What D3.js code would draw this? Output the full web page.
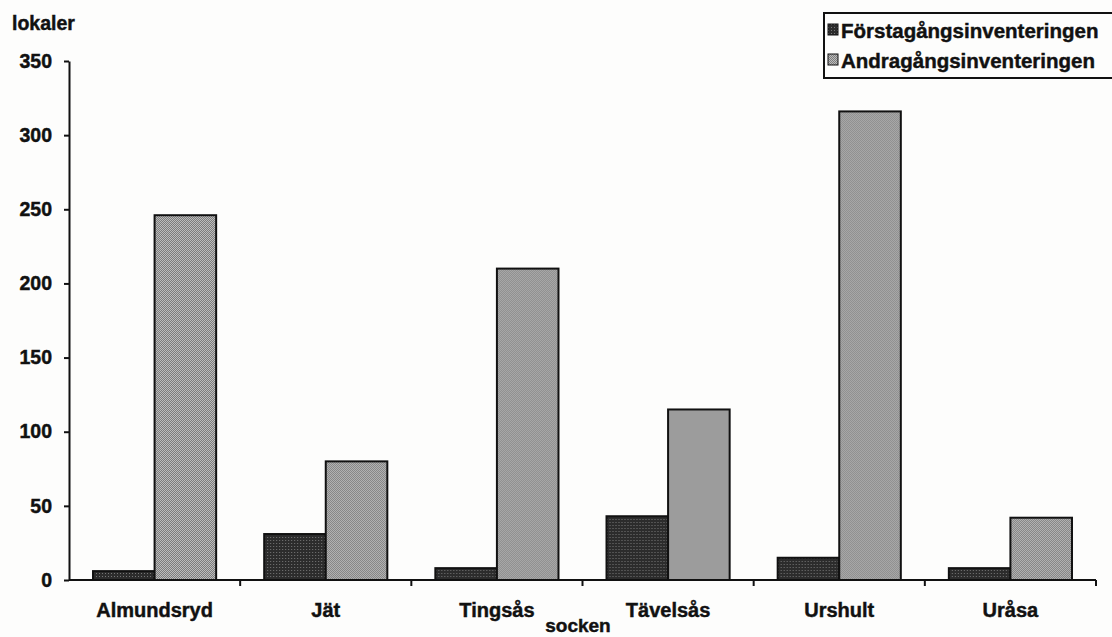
<!DOCTYPE html>
<html>
<head>
<meta charset="utf-8">
<script src="https://cdn.jsdelivr.net/npm/d3@7"></script>
<style>
  body { margin: 0; background: #fdfdfc; }
  svg { display: block; font-family: "Liberation Sans", Arial, sans-serif; font-weight: bold; }
  svg text { stroke: #111; stroke-width: 0.45px; }
</style>
</head>
<body>
<svg id="chart" width="1112" height="637"></svg>
<script>
// socknar och antal lokaler
const socknar = ["Almundsryd", "Jät", "Tingsås", "Tävelsås", "Urshult", "Uråsa"];
const serier = ["Förstagångsinventeringen", "Andragångsinventeringen"];
const forsta = [6, 31, 8, 43, 15, 8];
const andra = [246, 80, 210, 115, 316, 42];
const yTicks = [0, 50, 100, 150, 200, 250, 300, 350];

const svg = d3.select("#chart");
const margin = { l: 69, r: 16, t: 61, b: 57 };
const W = 1112, H = 637;

// halftone-ish fills like the scanned original
const defs = svg.append("defs");
const pDark = defs.append("pattern").attr("id", "p0")
    .attr("width", 3).attr("height", 3).attr("patternUnits", "userSpaceOnUse");
pDark.append("rect").attr("width", 3).attr("height", 3).attr("fill", "#2c2c2c");
pDark.append("rect").attr("width", 1).attr("height", 1).attr("fill", "#777");
const pLight = defs.append("pattern").attr("id", "p1")
    .attr("width", 2).attr("height", 2).attr("patternUnits", "userSpaceOnUse");
pLight.append("rect").attr("width", 2).attr("height", 2).attr("fill", "#bcbcbc");
pLight.append("rect").attr("width", 1).attr("height", 1).attr("fill", "#7c7c7c");
pLight.append("rect").attr("x", 1).attr("y", 1).attr("width", 1).attr("height", 1).attr("fill", "#7c7c7c");

const x = d3.scaleBand()
    .domain(socknar)
    .range([margin.l, W - margin.r]);
const xSub = d3.scaleBand()
    .domain(serier)
    .range([0, x.bandwidth()])
    .paddingOuter(0.39);
const y = d3.scaleLinear()
    .domain([0, 350])
    .range([H - margin.b, margin.t]);

const rows = socknar.map((s, i) => ({ key: s, values: [forsta[i], andra[i]] }));

// bars
svg.append("g").attr("class", "bars")
    .selectAll("g")
    .data(rows)
    .join("g")
    .attr("transform", d => `translate(${x(d.key)},0)`)
    .selectAll("rect")
    .data(d => d.values.map((v, i) => ({ serie: serier[i], value: v, i: i })))
    .join("rect")
    .attr("x", d => xSub(d.serie))
    .attr("y", d => y(d.value))
    .attr("width", xSub.bandwidth())
    .attr("height", d => y(0) - y(d.value))
    .attr("fill", d => `url(#p${d.i})`)
    .attr("stroke", "#111")
    .attr("stroke-width", 2);

// y axis
const axisY = d3.axisLeft(y)
    .tickValues(yTicks)
    .tickSize(5)
    .tickSizeOuter(0)
    .tickPadding(12);
const gy = svg.append("g")
    .attr("transform", `translate(${margin.l},0)`)
    .call(axisY);
gy.select(".domain").attr("stroke", "#111").attr("stroke-width", 2);
gy.selectAll(".tick line").attr("stroke", "#111").attr("stroke-width", 2);
gy.selectAll(".tick text")
    .attr("fill", "#111")
    .style("font-size", "19.5px")
    .style("font-weight", "bold")
    .style("font-family", "'Liberation Sans', Arial, sans-serif");

// x axis: baseline with ticks between categories
const gx = svg.append("g");
gx.append("line")
    .attr("x1", x.range()[0]).attr("x2", x.range()[1])
    .attr("y1", y(0)).attr("y2", y(0))
    .attr("stroke", "#111").attr("stroke-width", 2);
const bounds = socknar.map(s => x(s)).concat([x(socknar[socknar.length - 1]) + x.step()]).slice(1);
gx.selectAll(".xt")
    .data(bounds)
    .join("line")
    .attr("class", "xt")
    .attr("x1", d => d).attr("x2", d => d)
    .attr("y1", y(0)).attr("y2", y(0) + 6)
    .attr("stroke", "#111").attr("stroke-width", 2);
gx.selectAll(".xl")
    .data(socknar)
    .join("text")
    .attr("class", "xl")
    .attr("x", d => x(d) + x.bandwidth() / 2)
    .attr("y", 617)
    .attr("text-anchor", "middle")
    .style("font-size", "20px")
    .attr("fill", "#111")
    .text(d => d);

// axis titles
svg.append("text")
    .attr("x", 12).attr("y", 30)
    .style("font-size", "19.5px")
    .attr("fill", "#111")
    .text("lokaler");
svg.append("text")
    .attr("x", 578).attr("y", 632)
    .attr("text-anchor", "middle")
    .style("font-size", "19px")
    .attr("fill", "#111")
    .text("socken");

// legend
const leg = svg.append("g");
leg.append("rect")
    .attr("x", 824).attr("y", 13)
    .attr("width", 300).attr("height", 65)
    .attr("fill", "none")
    .attr("stroke", "#111")
    .attr("stroke-width", 2);
const li = leg.selectAll(".li")
    .data(serier)
    .join("g")
    .attr("class", "li")
    .attr("transform", (d, i) => `translate(828,${24 + i * 30})`);
li.append("rect")
    .attr("width", 10).attr("height", 11)
    .attr("fill", (d, i) => `url(#p${i})`)
    .attr("stroke", "#111").attr("stroke-width", 1);
li.append("text")
    .attr("x", 13).attr("y", 14)
    .style("font-size", "20.5px")
    .attr("fill", "#111")
    .text(d => d);
</script>
</body>
</html>
